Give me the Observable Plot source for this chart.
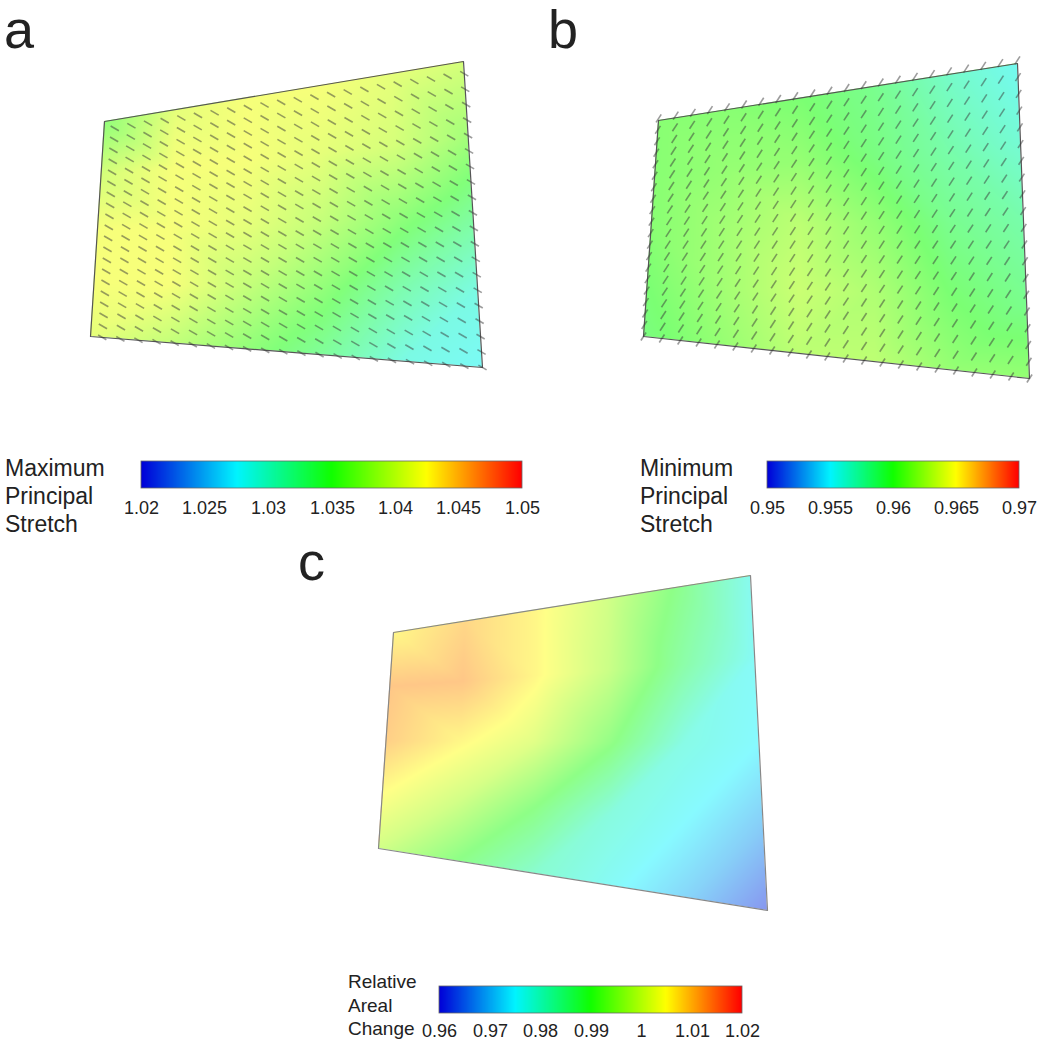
<!DOCTYPE html>
<html><head><meta charset="utf-8">
<script src="https://cdn.jsdelivr.net/npm/d3@7"></script>
<script src="https://cdn.jsdelivr.net/npm/@observablehq/plot@0.6"></script>
<style>
body{margin:0;background:#fff;}
#root{position:relative;width:1050px;height:1049px;overflow:hidden;font-family:"Liberation Sans",Arial,sans-serif;color:#222;}
.abs{position:absolute;white-space:nowrap;}
.letter{font-size:54px;line-height:1;}
.lab{font-size:23px;line-height:28px;}
.labs{font-size:19px;line-height:23.5px;}
</style></head><body><div id="root"></div>
<script>
// ---------------- data ----------------
const panelLetters = ["a", "b", "c"];
const legendTitleA = ["Maximum", "Principal", "Stretch"];
const legendTitleB = ["Minimum", "Principal", "Stretch"];
const legendTitleC = ["Relative", "Areal", "Change"];
const rampColors = ["#0000d8", "#00f4ff", "#10ff00", "#ffff00", "#ff0000"];
const stopsA = [1.02, 1.0275, 1.035, 1.0425, 1.05];
const ticksA = [1.02, 1.025, 1.03, 1.035, 1.04, 1.045, 1.05];
const stopsB = [0.95, 0.955, 0.96, 0.965, 0.97];
const ticksB = [0.95, 0.955, 0.96, 0.965, 0.97];
const stopsC = [0.96, 0.975, 0.99, 1.005, 1.02];
const ticksC = [0.96, 0.97, 0.98, 0.99, 1, 1.01, 1.02];
// tissue outline corners: top-left, top-right, bottom-right, bottom-left
const cornersA = [[104, 121], [463, 61], [482, 367], [90, 336]];
const cornersB = [[658, 120], [1017, 63], [1029, 378], [643, 336]];
const cornersC = [[393, 632], [750, 575], [767, 910], [378, 848]];
// field values sampled on the outline (rows top->bottom, columns left->right)
const fieldA = [
  [1.036, 1.041, 1.042, 1.042, 1.041, 1.040],
  [1.040, 1.042, 1.042, 1.041, 1.040, 1.037],
  [1.042, 1.042, 1.041, 1.039, 1.036, 1.033],
  [1.042, 1.042, 1.039, 1.036, 1.032, 1.029],
  [1.041, 1.039, 1.036, 1.033, 1.029, 1.028]
];
const fieldB = [
  [0.9605, 0.9605, 0.9600, 0.9590, 0.9570, 0.9555],
  [0.9605, 0.9610, 0.9610, 0.9595, 0.9580, 0.9565],
  [0.9605, 0.9615, 0.9625, 0.9610, 0.9590, 0.9580],
  [0.9600, 0.9615, 0.9630, 0.9620, 0.9600, 0.9590],
  [0.9595, 0.9610, 0.9625, 0.9625, 0.9610, 0.9610]
];
const fieldC = [
  [1.006, 1.010, 1.006, 0.999, 0.989, 0.977],
  [1.012, 1.012, 1.006, 0.998, 0.986, 0.976],
  [1.011, 1.006, 1.001, 0.991, 0.978, 0.975],
  [1.005, 0.999, 0.990, 0.979, 0.975, 0.969],
  [0.999, 0.990, 0.981, 0.976, 0.970, 0.962]
];
// principal-direction glyphs: mesh size, span in outline coordinates, angle (deg, screen), length (px)
const glyphMesh = {cols: 22, rows: 20};
const glyphSpanA = {u: [0.03, 1], v: [0.04, 1]};
const glyphSpanB = {u: [0, 1], v: [-0.01, 1]};
const glyphAngleA = 30;
const glyphAngleB = -57;
const glyphLength = 9.5;

// ---------------- helpers ----------------
const root = document.getElementById("root");
const NS = "http://www.w3.org/2000/svg";
function quadPoint(c, u, v) {
  const [tl, tr, br, bl] = c;
  return [0, 1].map(k => (1-u)*(1-v)*tl[k] + u*(1-v)*tr[k] + u*v*br[k] + (1-u)*v*bl[k]);
}
function place(el, left, top) {
  el.style.position = "absolute"; el.style.left = left + "px"; el.style.top = top + "px";
  root.appendChild(el);
}
let clipId = 0;
function panel({x0, y0, W, H, corners, field, stops, opacity, border, glyph}) {
  const samples = [];
  field.forEach((row, j) => row.forEach((val, i) => {
    const [x, y] = quadPoint(corners, i / (row.length - 1), j / (field.length - 1));
    samples.push({x, y, v: val});
  }));
  const ring = [...corners, corners[0]].map(([x, y]) => ({x, y}));
  const marks = [
    Plot.raster(samples, {x: "x", y: "y", fill: "v", interpolate: "barycentric",
      x1: x0, x2: x0 + W, y1: y0, y2: y0 + H, pixelSize: 1, opacity, imageRendering: "auto"}),
    Plot.line(ring, {x: "x", y: "y", stroke: border, strokeWidth: 1.2})
  ];
  if (glyph) {
    const nodes = [];
    const {cols, rows} = glyphMesh;
    for (let j = 0; j < rows; j++) for (let i = 0; i < cols; i++) {
      const u = glyph.span.u[0] + (glyph.span.u[1] - glyph.span.u[0]) * i / (cols - 1);
      const v = glyph.span.v[0] + (glyph.span.v[1] - glyph.span.v[0]) * j / (rows - 1);
      const [x, y] = quadPoint(corners, u, v);
      nodes.push({x, y});
    }
    const a = glyph.angle * Math.PI / 180, hx = glyphLength / 2 * Math.cos(a), hy = glyphLength / 2 * Math.sin(a);
    marks.push(Plot.link(nodes, {x1: d => d.x - hx, y1: d => d.y - hy, x2: d => d.x + hx, y2: d => d.y + hy,
      stroke: "#3a3a3a", strokeOpacity: 0.5, strokeWidth: 1.6}));
  }
  const svg = Plot.plot({
    width: W, height: H, margin: 0,
    x: {domain: [x0, x0 + W], axis: null},
    y: {domain: [y0, y0 + H], reverse: true, axis: null},
    color: {type: "linear", domain: stops, range: rampColors},
    style: {background: "transparent", overflow: "visible"},
    marks
  });
  // clip the colour field to the tissue outline
  const xs = svg.scale("x"), ys = svg.scale("y");
  const id = "clipq" + (clipId++);
  const defs = document.createElementNS(NS, "defs");
  const cp = document.createElementNS(NS, "clipPath"); cp.setAttribute("id", id);
  const pg = document.createElementNS(NS, "polygon");
  pg.setAttribute("points", corners.map(([x, y]) => `${xs.apply(x)},${ys.apply(y)}`).join(" "));
  cp.appendChild(pg); defs.appendChild(cp); svg.insertBefore(defs, svg.firstChild);
  const img = svg.querySelector("image");
  if (img) {
    const target = img.parentNode === svg ? img : img.parentNode;
    const wrap = document.createElementNS(NS, "g");
    wrap.setAttribute("clip-path", `url(#${id})`);
    target.parentNode.insertBefore(wrap, target);
    wrap.appendChild(target);
  }
  place(svg, x0, y0);
}
function ramp({left, top, barW, stops, ticks, tickSize}) {
  const mL = 30, mR = 30, mT = 2, barH = 27, mB = 36;
  const el = Plot.legend({
    color: {type: "linear", domain: stops, range: rampColors},
    width: barW + mL + mR, height: mT + barH + mB,
    marginTop: mT, marginBottom: mB, marginLeft: mL, marginRight: mR,
    ticks, tickFormat: d => String(d), tickSize, label: null,
    style: {fontSize: "18px", fontFamily: "'Liberation Sans', Arial, sans-serif", color: "#222", background: "transparent", overflow: "visible"}
  });
  el.querySelectorAll(".tick line").forEach(n => n.remove());
  const r = document.createElementNS(NS, "rect");
  r.setAttribute("x", mL); r.setAttribute("y", mT); r.setAttribute("width", barW); r.setAttribute("height", barH);
  r.setAttribute("fill", "none"); r.setAttribute("stroke", "#666"); r.setAttribute("stroke-width", "0.8");
  el.appendChild(r);
  place(el, left - mL, top - mT);
}
function textBlock(lines, cls, left, top) {
  const d = document.createElement("div");
  d.className = "abs " + cls;
  d.innerHTML = lines.map(s => `<div>${s}</div>`).join("");
  place(d, left, top);
}

// ---------------- panels ----------------
panel({x0: 60, y0: 40, W: 450, H: 350, corners: cornersA, field: fieldA, stops: stopsA, opacity: 0.52, border: "#555",
  glyph: {span: glyphSpanA, angle: glyphAngleA}});
panel({x0: 600, y0: 40, W: 450, H: 360, corners: cornersB, field: fieldB, stops: stopsB, opacity: 0.55, border: "#555",
  glyph: {span: glyphSpanB, angle: glyphAngleB}});
panel({x0: 340, y0: 550, W: 450, H: 380, corners: cornersC, field: fieldC, stops: stopsC, opacity: 0.47, border: "#888"});

ramp({left: 141, top: 461, barW: 381, stops: stopsA, ticks: ticksA, tickSize: 10});
ramp({left: 767, top: 461, barW: 252, stops: stopsB, ticks: ticksB, tickSize: 10});
ramp({left: 439, top: 986, barW: 303, stops: stopsC, ticks: ticksC, tickSize: 8});

textBlock(legendTitleA, "lab", 5, 454);
textBlock(legendTitleB, "lab", 640, 454);
textBlock(legendTitleC, "labs", 348, 970);

textBlock([panelLetters[0]], "letter", 4, 2);
textBlock([panelLetters[1]], "letter", 548, 2);
textBlock([panelLetters[2]], "letter", 298, 534);
</script></body></html>
